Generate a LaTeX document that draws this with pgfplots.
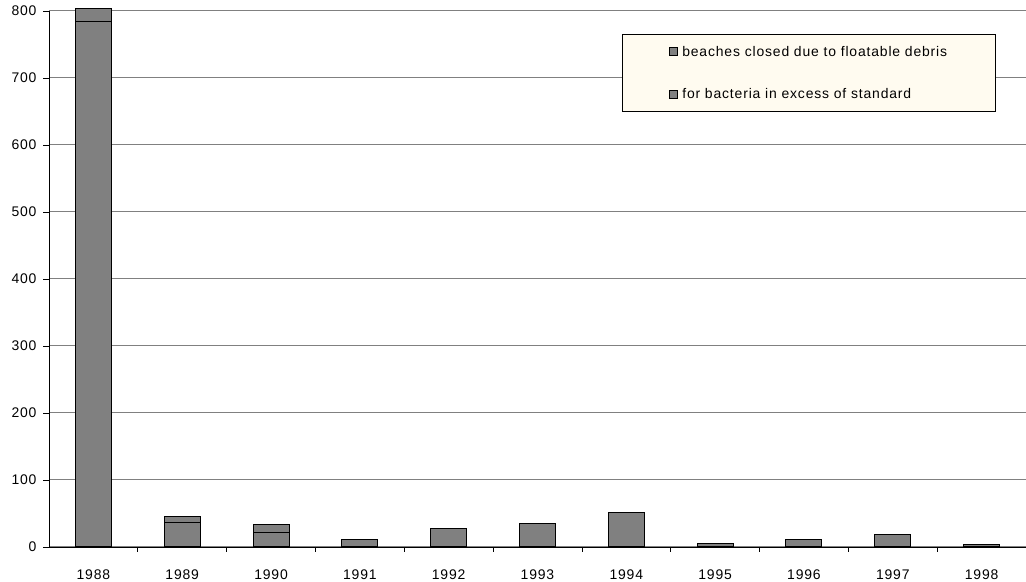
\documentclass[border=0pt]{standalone}
\usepackage{pgfplots}
\pgfplotsset{compat=1.18}
\usepackage{fontspec}
\setmainfont{Liberation Sans}[LetterSpace=6]
\definecolor{barfill}{HTML}{808080}
\definecolor{gridgray}{HTML}{808080}
\definecolor{legfill}{HTML}{FFFBF0}

\begin{document}
\begin{tikzpicture}
\begin{axis}[
    name=ax,
    scale only axis,
    width=977bp, height=536bp,
    ybar stacked,
    bar width=36bp,
    xmin=-0.5, xmax=10.5,
    ymin=0, ymax=800,
    clip=false,
    axis x line*=bottom,
    axis y line*=left,
    axis line style={black, line width=0.8bp, -},
    xtick={0,...,10},
    xticklabels={1988,1989,1990,1991,1992,1993,1994,1995,1996,1997,1998},
    major x tick style={draw=none},
    minor xtick={0.5,1.5,...,9.5},
    minor x tick style={black, line width=0.8bp},
    minor tick length=5bp,
    ytick={0,100,...,800},
    major y tick style={black, line width=0.8bp},
    major tick length=6bp,
    tick align=outside,
    ymajorgrids,
    major grid style={gridgray, line width=1bp},
    tick label style={font=\fontsize{14}{16}\selectfont},
    xticklabel style={yshift=-13bp},
    yticklabel style={xshift=-3bp},
    /pgf/number format/assume math mode=true,
    legend style={
        at={(0.5865,0.957)}, anchor=north west,
        fill=legfill, draw=black, line width=0.8bp,
        inner xsep=47bp, inner ysep=10bp,
        row sep=28bp,
        font=\fontsize{14}{16}\selectfont,
        nodes={inner sep=1.5bp, anchor=west},
        legend cell align=left,
    },
    legend image code/.code={
        \draw[fill=barfill, draw=black, line width=0.8bp] (0bp,-4bp) rectangle (8bp,4bp);
        \path[draw=none, fill=none] (0bp,0bp) -- (11bp,0bp);},
]
% beaches closed due to floatable debris
\addplot+[fill=barfill, draw=black, line width=1bp] coordinates {
(0,785) (1,36) (2,22) (3,11) (4,27) (5,35) (6,52) (7,5) (8,11) (9,19) (10,3)};
% for bacteria in excess of standard
\addplot+[fill=barfill, draw=black, line width=1bp] coordinates {
(0,18) (1,9) (2,11) (3,0) (4,0) (5,0) (6,0) (7,0) (8,0) (9,0) (10,0)};
\legend{beaches closed due to floatable debris, for bacteria in excess of standard}
\end{axis}
\pgfresetboundingbox
\path ([xshift=-49bp,yshift=-35bp]ax.south west) rectangle ([yshift=11bp]ax.north east);
\end{tikzpicture}
\end{document}
